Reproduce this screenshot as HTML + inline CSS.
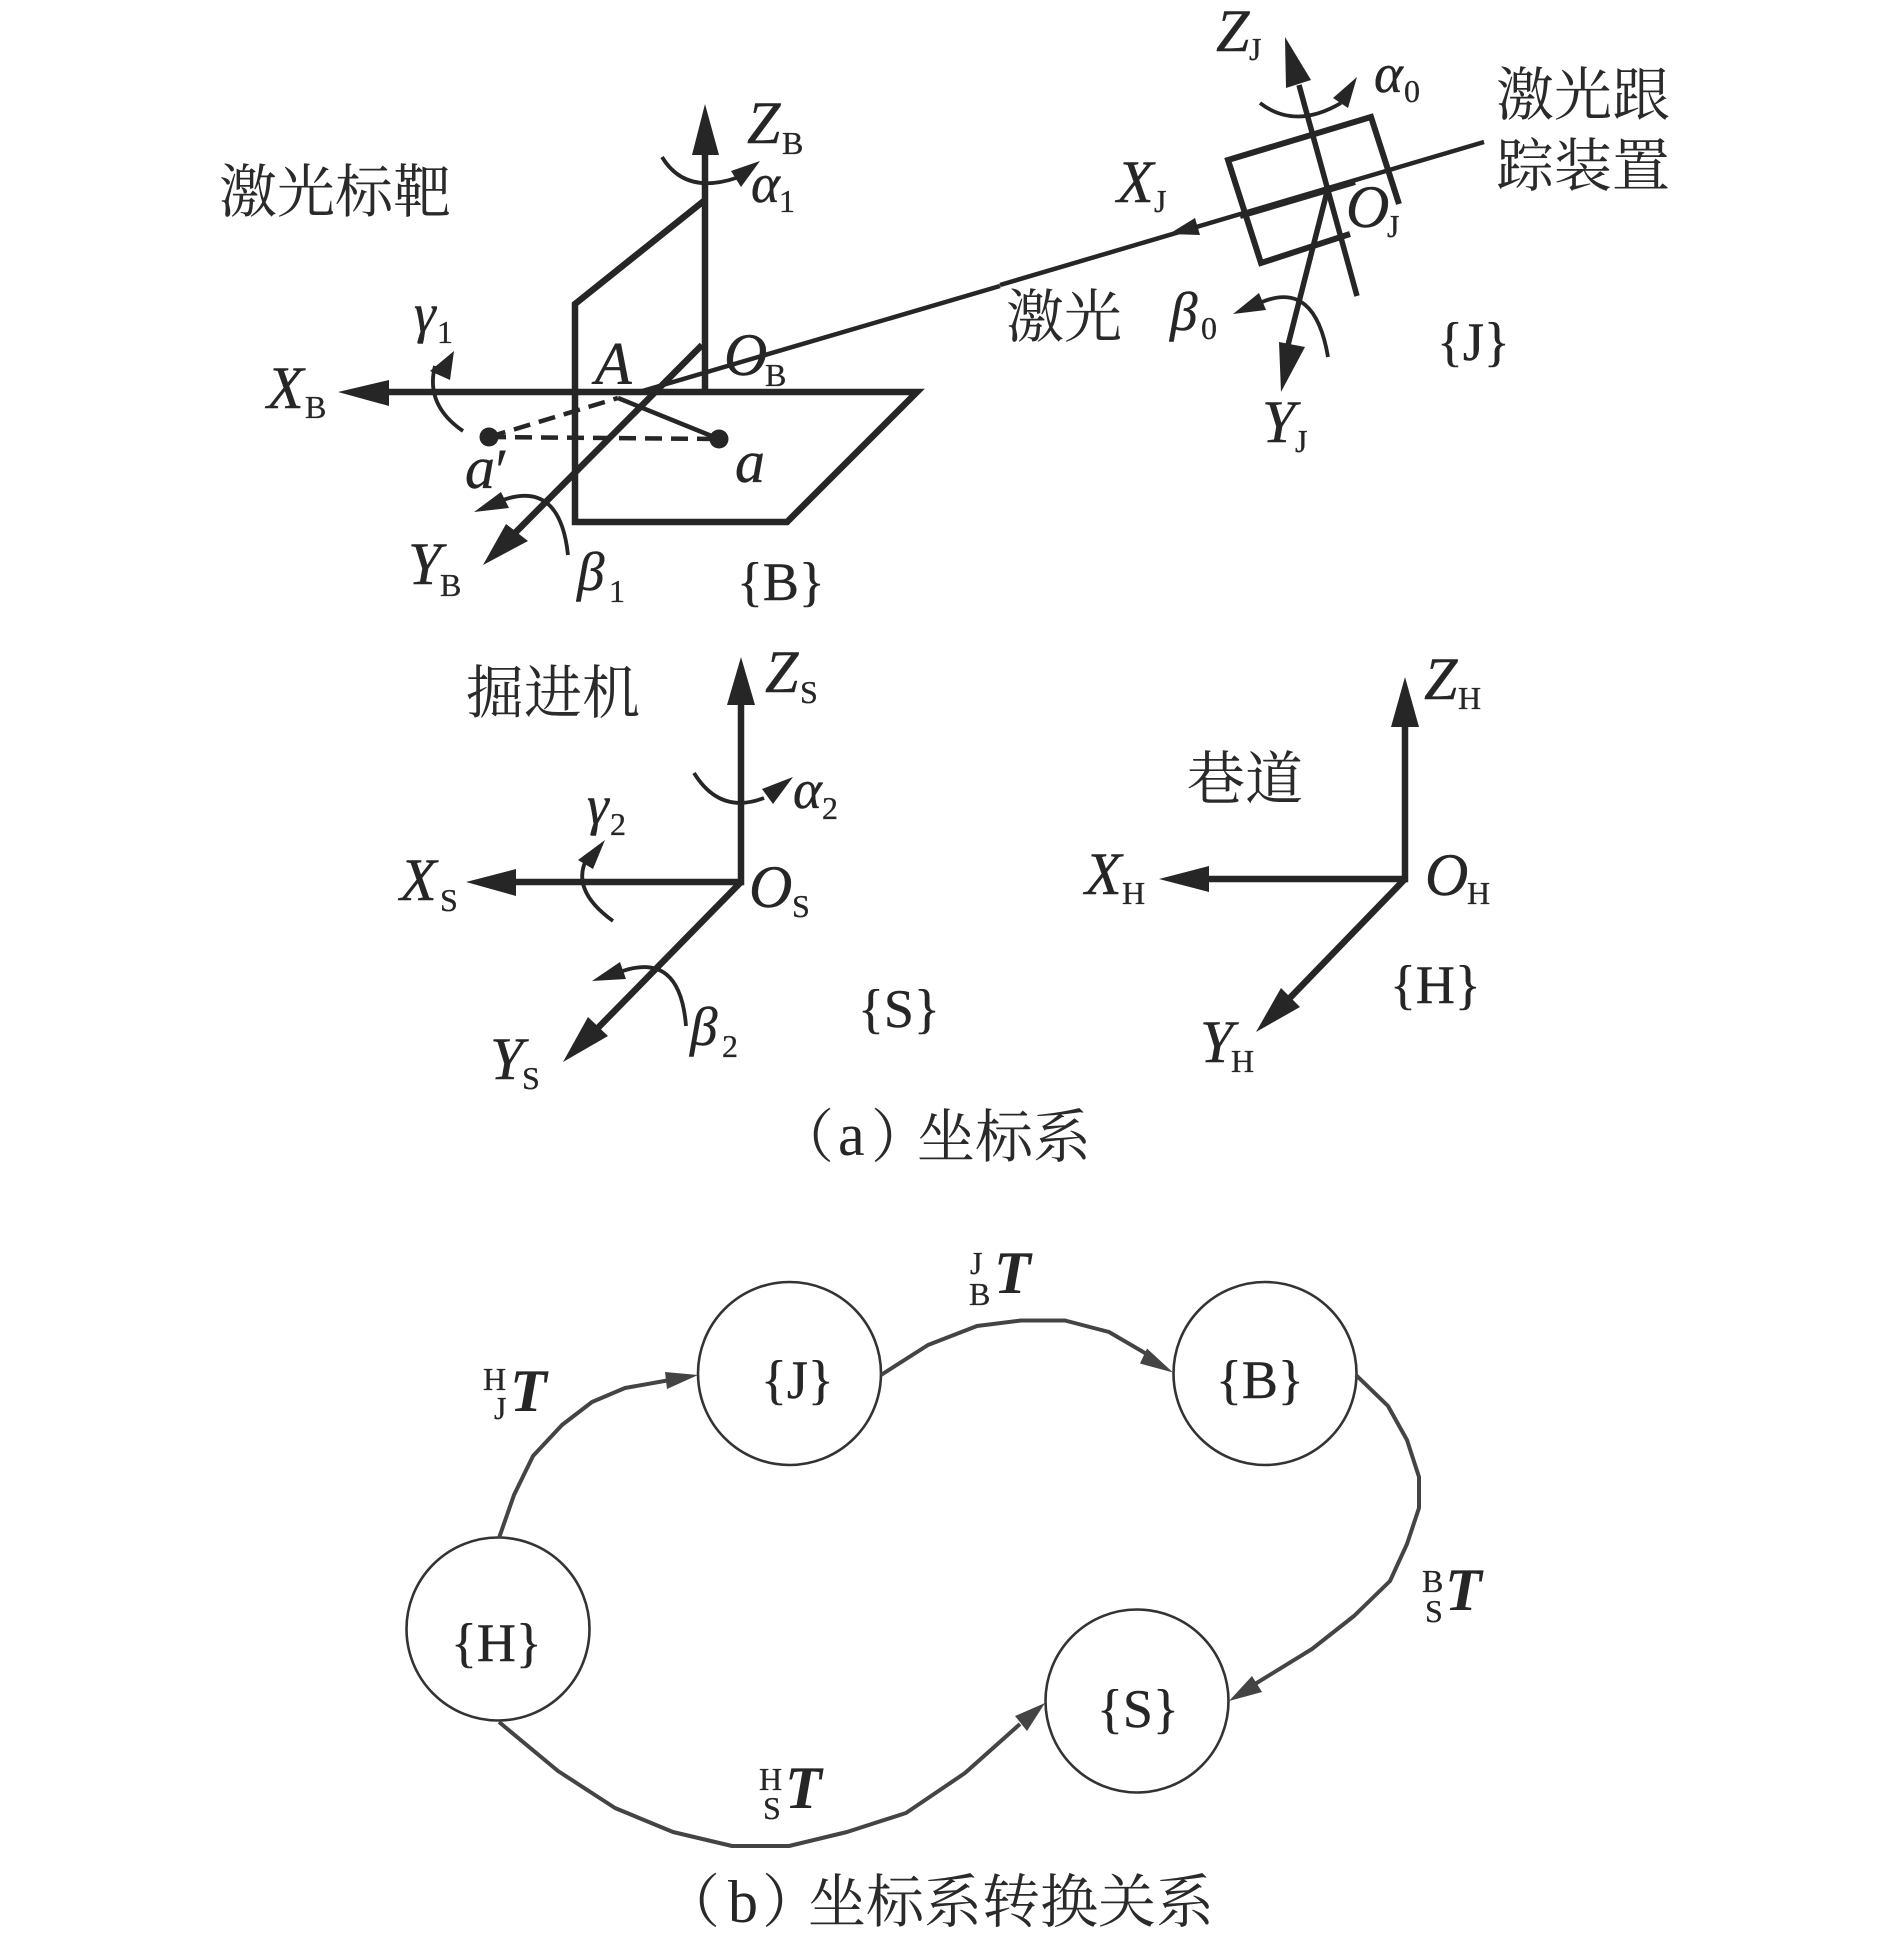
<!DOCTYPE html>
<html lang="zh"><head><meta charset="utf-8"><title>坐标系</title>
<style>
html,body{margin:0;padding:0;background:#fff}
svg{display:block}
text{font-family:"Liberation Serif","Noto Serif CJK SC",serif;fill:#262626}
.c{font-family:"Noto Serif CJK SC","Liberation Serif",serif;font-size:58px;fill:#2a2a2a}
.i{font-style:italic;font-size:60px;stroke:#262626;stroke-width:.4;transform:translateY(2px)}
.s{font-size:32px;stroke:#262626;stroke-width:.3;transform:translateY(2px)}
.b{font-size:54px;stroke:#262626;stroke-width:.4;transform:translateY(2px)}
.g{font-style:italic;font-size:55px;stroke:#262626;stroke-width:.4;transform:translateY(2px)}
.t{font-style:italic;font-weight:bold;font-size:60px}
.l{fill:none;stroke:#262626;stroke-linejoin:miter}
.k{fill:#262626}
.w{stroke-width:6.5}
.n{stroke-width:4.5}
.a{stroke-width:3.8}
.m{fill:none;stroke:#444;stroke-width:4;stroke-linejoin:round}
.h{fill:#444}
circle{fill:none;stroke:#333;stroke-width:2.6}
</style></head><body>
<svg xmlns="http://www.w3.org/2000/svg" width="1890" height="1939" viewBox="0 0 1890 1939">
<rect width="1890" height="1939" fill="#fff"/>

<!-- {B} frame -->
<path class="l w" d="M705 150V392"/>
<path class="k" d="M705 104L692 155H719Z"/>
<path class="l w" d="M705 200L575 304V522H787L917 392H385"/>
<path class="k" d="M338 392L389 380V406Z"/>
<path class="l w" d="M702 345L500 548"/>
<path class="k" d="M483 565L506 524L528 541Z"/>
<path class="l n" d="M639 392L1000 286"/>
<path class="l n" d="M618 398L719 439"/>
<path class="l n" stroke-dasharray="17 9" d="M489 437L618 398"/>
<path class="l n" stroke-dasharray="17 9" d="M489 437L719 439"/>
<circle cx="719" cy="439" r="9.5" style="fill:#262626;stroke:none"/>
<circle cx="489" cy="437" r="9.5" style="fill:#262626;stroke:none"/>
<path class="l a" d="M463 431Q425 405 435 366"/>
<path class="k" d="M454 351L430 371L450 380Z"/>
<path class="l a" d="M662 157Q685 195 736 178"/>
<path class="k" d="M760 161L731 171L741 187Z"/>
<path class="l a" d="M568 555Q560 480 503 500"/>
<path class="k" d="M474 512L501 492L509 508Z"/>

<text class="c" x="219" y="212">激光标靶</text>
<text class="i" x="747" y="141">Z</text><text class="s" x="782" y="152">B</text>
<text class="g" x="751" y="200">α</text><text class="s" x="779" y="210">1</text>
<text class="g" x="414" y="330">γ</text><text class="s" x="437" y="341">1</text>
<text class="i" x="267" y="406">X</text><text class="s" x="305" y="416">B</text>
<text class="i" x="595" y="382">A</text>
<text class="i" x="724" y="373">O</text><text class="s" x="765" y="384">B</text>
<text class="i" x="465" y="486">a</text><text x="495" y="492" style="font-size:64px">′</text>
<text class="i" x="735" y="480">a</text>
<text class="i" x="408" y="582">Y</text><text class="s" x="440" y="594">B</text>
<text class="g" x="577" y="588">β</text><text class="s" x="609" y="600">1</text>
<text class="b" x="737" y="598">{B}</text>

<!-- {J} frame -->
<path class="l" style="stroke-width:5.5" d="M1299 85L1357 296"/>
<path class="k" d="M1285 37L1286 88L1311 80Z"/>
<path class="l" style="stroke-width:5.5" d="M1328 188L1288 345"/>
<path class="k" d="M1281 392L1279 342L1305 347Z"/>
<path class="l" style="stroke-width:6" d="M1399 204L1371 117L1228 160L1261 263L1350 234"/>
<path class="l n" d="M1484 142L1000 285"/>
<path class="l" style="stroke-width:6" d="M1355 182L1240 216"/>
<path class="k" d="M1169 234L1195 218L1200 235Z"/>
<path class="l a" d="M1260 103Q1295 130 1341 103"/>
<path class="k" d="M1357 77L1333 98L1348 108Z"/>
<path class="l a" d="M1328 357Q1315 280 1262 302"/>
<path class="k" d="M1233 314L1259 293L1266 310Z"/>

<text class="i" x="1216" y="49">Z</text><text class="s" x="1249" y="58">J</text>
<text class="i" x="1117" y="200">X</text><text class="s" x="1154" y="210">J</text>
<text class="i" x="1346" y="225">O</text><text class="s" x="1387" y="235">J</text>
<text class="g" x="1374" y="90">α</text><text class="s" x="1404" y="100">0</text>
<text class="c" x="1496" y="115">激光跟</text>
<text class="c" x="1496" y="186">踪装置</text>
<text class="c" x="1006" y="337">激光</text>
<text class="g" x="1170" y="328">β</text><text class="s" x="1201" y="337">0</text>
<text class="b" x="1437" y="358">{J}</text>
<text class="i" x="1262" y="440">Y</text><text class="s" x="1295" y="450">J</text>

<!-- {S} frame -->
<path class="l w" d="M741 700V882H510"/>
<path class="k" d="M741 657L727 705H755Z"/>
<path class="k" d="M466 882L516 869V896Z"/>
<path class="l w" d="M741 882L590 1036"/>
<path class="k" d="M563 1062L588 1017L608 1036Z"/>
<path class="l a" d="M694 773Q720 815 764 798"/>
<path class="k" d="M793 777L762 789L773 804Z"/>
<path class="l a" d="M613 921Q570 890 587 858"/>
<path class="k" d="M605 840L578 860L593 869Z"/>
<path class="l a" d="M686 1026Q680 950 620 972"/>
<path class="k" d="M592 981L620 962L626 979Z"/>

<text class="c" x="466" y="713">掘进机</text>
<text class="i" x="765" y="690">Z</text><text class="s" x="800" y="701">S</text>
<text class="g" x="793" y="806">α</text><text class="s" x="822" y="817">2</text>
<text class="g" x="587" y="822">γ</text><text class="s" x="610" y="833">2</text>
<text class="i" x="400" y="898">X</text><text class="s" x="440" y="909">S</text>
<text class="i" x="749" y="905">O</text><text class="s" x="792" y="915">S</text>
<text class="g" x="690" y="1043">β</text><text class="s" x="722" y="1055">2</text>
<text class="b" x="858" y="1025">{S}</text>
<text class="i" x="490" y="1077">Y</text><text class="s" x="522" y="1087">S</text>

<!-- {H} frame -->
<path class="l w" d="M1405 720V879H1205"/>
<path class="k" d="M1405 677L1391 727H1419Z"/>
<path class="k" d="M1159 879L1209 866V892Z"/>
<path class="l w" d="M1405 879L1285 1003"/>
<path class="k" d="M1256 1032L1281 988L1300 1007Z"/>
<text class="c" x="1187" y="799">巷道</text>
<text class="i" x="1424" y="697">Z</text><text class="s" x="1458" y="707">H</text>
<text class="i" x="1085" y="892">X</text><text class="s" x="1122" y="902">H</text>
<text class="i" x="1425" y="893">O</text><text class="s" x="1467" y="902">H</text>
<text class="b" x="1390" y="1001">{H}</text>
<text class="i" x="1200" y="1060">Y</text><text class="s" x="1231" y="1070">H</text>

<!-- caption a -->
<text class="c" x="776" y="1157">（</text>
<text x="838" y="1155" style="font-size:60px">a</text>
<text class="c" x="871" y="1157">）</text>
<text class="c" x="917" y="1157">坐标系</text>

<!-- state diagram -->
<circle cx="789.5" cy="1373.5" r="91.5"/>
<circle cx="498" cy="1629" r="91.5"/>
<circle cx="1265" cy="1373.5" r="91.5"/>
<circle cx="1137" cy="1701" r="91.5"/>
<path class="m" d="M499 1538L514 1495L533 1456L562 1425L592 1402L625 1388L670 1380"/>
<path class="h" d="M698 1375L665 1372L667 1389Z"/>
<path class="m" d="M881 1375L928 1345L977 1326L1021 1320.5H1065L1109 1332L1150 1356"/>
<path class="h" d="M1173 1372.5L1147 1348.5L1140 1363.5Z"/>
<path class="m" d="M1356 1375L1388 1406L1407 1440L1419 1477V1508L1407 1544L1390 1581L1354 1616L1312 1649L1255 1684"/>
<path class="h" d="M1229 1701L1252 1676L1262 1692Z"/>
<path class="m" d="M499 1722L558 1771L615 1808L673 1832L732 1846H789L847 1832L906 1813L965 1773L1020 1724"/>
<path class="h" d="M1045 1703L1015 1716L1027 1731Z"/>

<text class="b" x="761" y="1396">{J}</text>
<text class="b" x="451" y="1659">{H}</text>
<text class="b" x="1216" y="1396">{B}</text>
<text class="b" x="1097" y="1725">{S}</text>

<text class="s" x="483" y="1388">H</text><text class="s" x="494" y="1417">J</text><text class="t" x="510" y="1411">T</text>
<text class="s" x="970" y="1272">J</text><text class="s" x="969" y="1303">B</text><text class="t" x="994" y="1293">T</text>
<text class="s" x="1422" y="1590">B</text><text class="s" x="1425" y="1620">S</text><text class="t" x="1445" y="1610">T</text>
<text class="s" x="759" y="1788">H</text><text class="s" x="763" y="1817">S</text><text class="t" x="785" y="1808">T</text>

<!-- caption b -->
<text class="c" x="662" y="1922">（</text>
<text x="728" y="1922" style="font-size:60px">b</text>
<text class="c" x="762" y="1922">）</text>
<text class="c" x="808" y="1922">坐标系转换关系</text>
</svg>
</body></html>
